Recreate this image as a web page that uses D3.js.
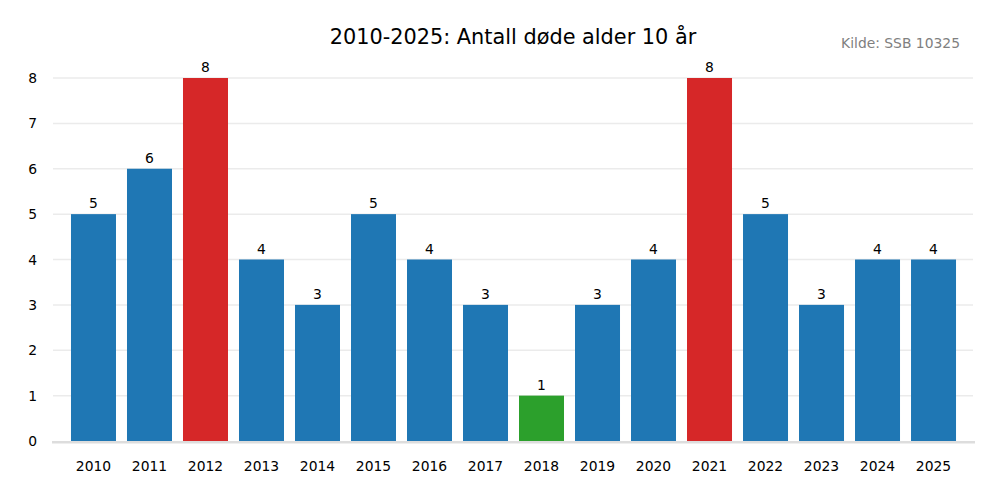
<!DOCTYPE html>
<html><head><meta charset="utf-8">
<script src="https://cdn.jsdelivr.net/npm/d3@7"></script>
<style>body{margin:0;background:#fff;} text{font-family:"DejaVu Sans",sans-serif;}</style>
</head><body>
<svg id="c" width="1000" height="500"></svg>
<script>
const years = ["2010","2011","2012","2013","2014","2015","2016","2017","2018","2019","2020","2021","2022","2023","2024","2025"];
const deaths = [5,6,8,4,3,5,4,3,1,3,4,8,5,3,4,4];
const yTicks = [0,1,2,3,4,5,6,7,8];
const title = "2010-2025: Antall døde alder 10 år";
const source = "Kilde: SSB 10325";

(function(){
const svg = d3.select("#c");
const pL = 53, pR = 973, pT = 78, pB = 441;
const fs = 13.89;
const x = d3.scaleLinear().domain([-0.723, 15.705]).range([pL, pR]);
const y = d3.scaleLinear().domain([0, 8]).range([pB, pT]);
const bw = 45 / 56;
const maxV = d3.max(deaths), minV = d3.min(deaths);
const color = v => v === maxV ? "#d62728" : (v === minV ? "#2ca02c" : "#1f77b4");

svg.append("g").selectAll("line").data(yTicks.filter(d => d > 0)).join("line")
  .attr("x1", pL).attr("x2", pR)
  .attr("y1", d => y(d)).attr("y2", d => y(d))
  .attr("stroke", "#ebebeb").attr("stroke-width", 1.5);

svg.append("g").selectAll("rect").data(deaths).join("rect")
  .attr("x", (d, i) => x(i - bw / 2)).attr("width", x(bw) - x(0))
  .attr("y", d => y(d)).attr("height", d => y(0) - y(d))
  .attr("fill", d => color(d));

svg.append("g").selectAll("text").data(deaths).join("text")
  .attr("x", (d, i) => x(i)).attr("y", d => y(d) - 6)
  .attr("text-anchor", "middle").attr("font-size", fs).attr("fill", "#000")
  .text(d => d);

svg.append("line").attr("x1", pL - 1).attr("x2", pR + 2)
  .attr("y1", pB + 1.2).attr("y2", pB + 1.2)
  .attr("stroke", "#dddddd").attr("stroke-width", 2.4);

svg.append("g").selectAll("text").data(yTicks).join("text")
  .attr("x", 37).attr("y", d => y(d)).attr("dy", "0.36em")
  .attr("text-anchor", "end").attr("font-size", fs).attr("fill", "#000")
  .text(d => d);

svg.append("g").selectAll("text").data(years).join("text")
  .attr("x", (d, i) => x(i)).attr("y", 470.5)
  .attr("text-anchor", "middle").attr("font-size", fs).attr("fill", "#000")
  .text(d => d);

svg.append("text").attr("x", (pL + pR) / 2).attr("y", 44)
  .attr("text-anchor", "middle").attr("font-size", 20.83).attr("fill", "#000").text(title);
svg.append("text").attr("x", 960).attr("y", 48)
  .attr("text-anchor", "end").attr("font-size", fs).attr("fill", "#808080").text(source);
})();
</script>
</body></html>
